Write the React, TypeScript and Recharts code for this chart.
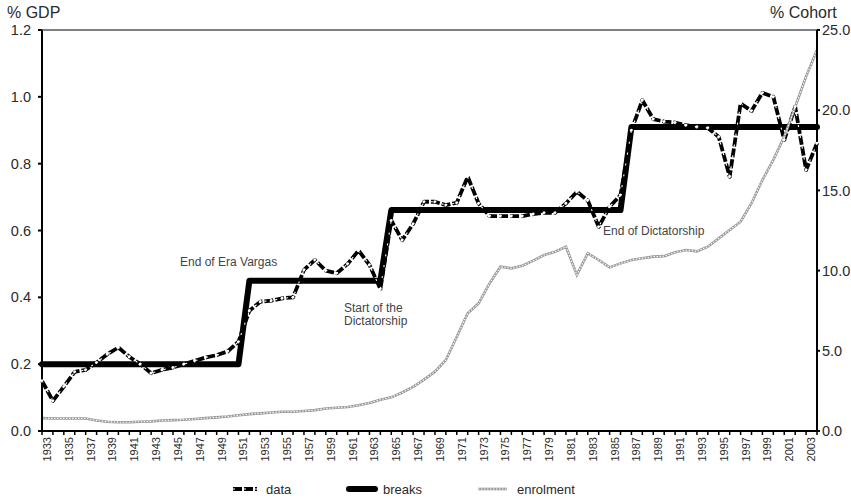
import { LineChart, Line, XAxis, YAxis, ReferenceLine } from 'recharts'

const years = [
  1933, 1934, 1935, 1936, 1937, 1938, 1939, 1940, 1941, 1942, 1943, 1944,
  1945, 1946, 1947, 1948, 1949, 1950, 1951, 1952, 1953, 1954, 1955, 1956,
  1957, 1958, 1959, 1960, 1961, 1962, 1963, 1964, 1965, 1966, 1967, 1968,
  1969, 1970, 1971, 1972, 1973, 1974, 1975, 1976, 1977, 1978, 1979, 1980,
  1981, 1982, 1983, 1984, 1985, 1986, 1987, 1988, 1989, 1990, 1991, 1992,
  1993, 1994, 1995, 1996, 1997, 1998, 1999, 2000, 2001, 2002, 2003, 2004,
]

// spending, % GDP
const gdpData = [
  0.15, 0.09, 0.133, 0.177, 0.183, 0.205, 0.23, 0.25, 0.222, 0.2, 0.173, 0.183,
  0.19, 0.2, 0.21, 0.22, 0.227, 0.238, 0.267, 0.36, 0.387, 0.39, 0.397, 0.4,
  0.482, 0.512, 0.48, 0.472, 0.5, 0.54, 0.497, 0.425, 0.63, 0.571, 0.62, 0.686,
  0.686, 0.676, 0.683, 0.761, 0.681, 0.643, 0.643, 0.643, 0.643, 0.649, 0.653, 0.653,
  0.681, 0.716, 0.69, 0.611, 0.671, 0.706, 0.9, 0.99, 0.933, 0.926, 0.923, 0.915,
  0.91, 0.907, 0.88, 0.761, 0.98, 0.958, 1.012, 1.0, 0.871, 0.97, 0.781, 0.861,
]

// structural break levels
const breaks = [
  0.2, 0.2, 0.2, 0.2, 0.2, 0.2, 0.2, 0.2, 0.2, 0.2, 0.2, 0.2,
  0.2, 0.2, 0.2, 0.2, 0.2, 0.2, 0.2, 0.45, 0.45, 0.45, 0.45, 0.45,
  0.45, 0.45, 0.45, 0.45, 0.45, 0.45, 0.45, 0.45, 0.661, 0.661, 0.661, 0.661,
  0.661, 0.661, 0.661, 0.661, 0.661, 0.661, 0.661, 0.661, 0.661, 0.661, 0.661, 0.661,
  0.661, 0.661, 0.661, 0.661, 0.661, 0.661, 0.91, 0.91, 0.91, 0.91, 0.91, 0.91,
  0.91, 0.91, 0.91, 0.91, 0.91, 0.91, 0.91, 0.91, 0.91, 0.91, 0.91, 0.91,
]

// enrolment, % cohort
const enrolment = [
  0.8, 0.78, 0.78, 0.78, 0.78, 0.65, 0.58, 0.55, 0.55, 0.58, 0.6, 0.65,
  0.68, 0.7, 0.75, 0.8, 0.85, 0.9, 0.98, 1.05, 1.1, 1.15, 1.2, 1.2,
  1.25, 1.3, 1.4, 1.45, 1.5, 1.6, 1.75, 1.95, 2.1, 2.4, 2.75, 3.2,
  3.7, 4.43, 5.88, 7.34, 7.96, 9.2, 10.24, 10.14, 10.3, 10.62, 10.97, 11.18,
  11.49, 9.73, 11.08, 10.66, 10.2, 10.45, 10.66, 10.77, 10.87, 10.9, 11.14, 11.28,
  11.2, 11.49, 12.01, 12.53, 13.05, 14.2, 15.65, 16.9, 18.35, 20.2, 22.1, 23.75,
]

const leftTicks = [0, 0.2, 0.4, 0.6, 0.8, 1.0, 1.2]
const rightTicks = [0, 5, 10, 15, 20, 25]

const rows = years.map((y, i) => ({
  year: y,
  data: gdpData[i],
  breaks: breaks[i],
  enrolment: enrolment[i],
}))

const FONT = '"Liberation Sans", Arial, Helvetica, sans-serif'
const TEXT = '#2a2a2a'

function YearTick({ x, y, payload, index }: any) {
  const showLabel = index % 2 === 0
  return (
    <g>
      <line x1={x} y1={y - 1} x2={x} y2={y + 4} stroke="#000" strokeWidth={1.5} />
      {showLabel && (
        <text
          x={x + 5}
          y={y + 6}
          transform={`rotate(-90, ${x + 5}, ${y + 6})`}
          textAnchor="end"
          dominantBaseline="central"
          fontSize={11}
          fill={TEXT}
          fontFamily={FONT}
        >
          {payload.value}
        </text>
      )}
    </g>
  )
}

export default function App() {
  return (
    <div style={{ position: 'absolute', left: 0, top: 0, width: 851, height: 498, background: '#fff', fontFamily: FONT }}>
      <LineChart width={851} height={498} data={rows} margin={{ top: 30, right: 0, bottom: 0, left: 0 }}>
        <XAxis
          dataKey="year"
          type="category"
          scale="point"
          padding={{ left: 0, right: 0 }}
          interval={0}
          height={67}
          tickSize={0}
          tickMargin={0}
          tickLine={false}
          axisLine={{ stroke: '#000', strokeWidth: 2 }}
          tick={<YearTick />}
        />
        <YAxis
          yAxisId="left"
          domain={[0, 1.2]}
          ticks={leftTicks}
          width={42}
          tickSize={4}
          tickMargin={7}
          tickFormatter={(v) => v.toFixed(1)}
          tick={{ fill: TEXT, fontSize: 14.5, fontFamily: FONT }}
          axisLine={{ stroke: '#000', strokeWidth: 2 }}
          tickLine={{ stroke: '#000', strokeWidth: 2 }}
        />
        <YAxis
          yAxisId="right"
          orientation="right"
          domain={[0, 25]}
          ticks={rightTicks}
          width={34}
          tickSize={3}
          tickMargin={2}
          tickFormatter={(v) => v.toFixed(1)}
          tick={{ fill: TEXT, fontSize: 14.5, fontFamily: FONT }}
          axisLine={{ stroke: '#000', strokeWidth: 2 }}
          tickLine={{ stroke: '#000', strokeWidth: 2 }}
        />
        <ReferenceLine yAxisId="left" y={1.2} stroke="#555" strokeWidth={1.5} ifOverflow="visible" />
        <Line
          yAxisId="left"
          type="linear"
          dataKey="breaks"
          stroke="#000"
          strokeWidth={6}
          strokeLinejoin="round"
          strokeLinecap="round"
          dot={false}
          activeDot={false}
          isAnimationActive={false}
        />
        <Line
          yAxisId="left"
          type="linear"
          dataKey="data"
          stroke="#000"
          strokeWidth={3.8}
          strokeDasharray="9 2"
          strokeLinejoin="round"
          dot={false}
          activeDot={false}
          isAnimationActive={false}
        />
        <Line
          yAxisId="left"
          type="linear"
          dataKey="data"
          stroke="#fff"
          strokeWidth={1.1}
          strokeDasharray="2 9"
          dot={{ r: 1.6, fill: '#fff', stroke: '#000', strokeWidth: 0.8 }}
          activeDot={false}
          isAnimationActive={false}
        />
        <Line
          yAxisId="right"
          type="linear"
          dataKey="enrolment"
          stroke="#9a9a9a"
          strokeWidth={2.6}
          dot={false}
          activeDot={false}
          isAnimationActive={false}
        />
        <Line
          yAxisId="right"
          type="linear"
          dataKey="enrolment"
          stroke="#fff"
          strokeWidth={1.1}
          strokeDasharray="1.5 1.5"
          dot={false}
          activeDot={false}
          isAnimationActive={false}
        />
      </LineChart>

      {/* axis titles */}
      <div style={{ position: 'absolute', left: 7, top: 4, fontSize: 16, color: TEXT }}>% GDP</div>
      <div style={{ position: 'absolute', left: 770, top: 4, fontSize: 16, color: TEXT }}>% Cohort</div>

      {/* annotations */}
      <div style={{ position: 'absolute', left: 180, top: 255, fontSize: 12, color: '#444', lineHeight: '14px' }}>
        End of Era Vargas
      </div>
      <div style={{ position: 'absolute', left: 344, top: 302, fontSize: 12, color: '#444', lineHeight: '13px' }}>
        Start of the
        <br />
        Dictatorship
      </div>
      <div style={{ position: 'absolute', left: 603, top: 224, fontSize: 12, color: '#444', lineHeight: '14px' }}>
        End of Dictatorship
      </div>

      {/* legend */}
      <svg width={851} height={20} style={{ position: 'absolute', left: 0, top: 479 }}>
        <line x1={233} y1={10} x2={257} y2={10} stroke="#000" strokeWidth={3.8} strokeDasharray="9 2" />
        <line x1={233} y1={10} x2={257} y2={10} stroke="#fff" strokeWidth={1.1} strokeDasharray="2 9" />
        <text x={266} y={10} dominantBaseline="central" fontSize={13} fill={TEXT} fontFamily={FONT}>data</text>
        <line x1={349} y1={10} x2={375} y2={10} stroke="#000" strokeWidth={6} strokeLinecap="round" />
        <text x={383} y={10} dominantBaseline="central" fontSize={13} fill={TEXT} fontFamily={FONT}>breaks</text>
        <line x1={478} y1={10} x2={507} y2={10} stroke="#9a9a9a" strokeWidth={2.6} />
        <line x1={478} y1={10} x2={507} y2={10} stroke="#fff" strokeWidth={1.1} strokeDasharray="1.5 1.5" />
        <text x={517} y={10} dominantBaseline="central" fontSize={13} fill={TEXT} fontFamily={FONT}>enrolment</text>
      </svg>
    </div>
  )
}
